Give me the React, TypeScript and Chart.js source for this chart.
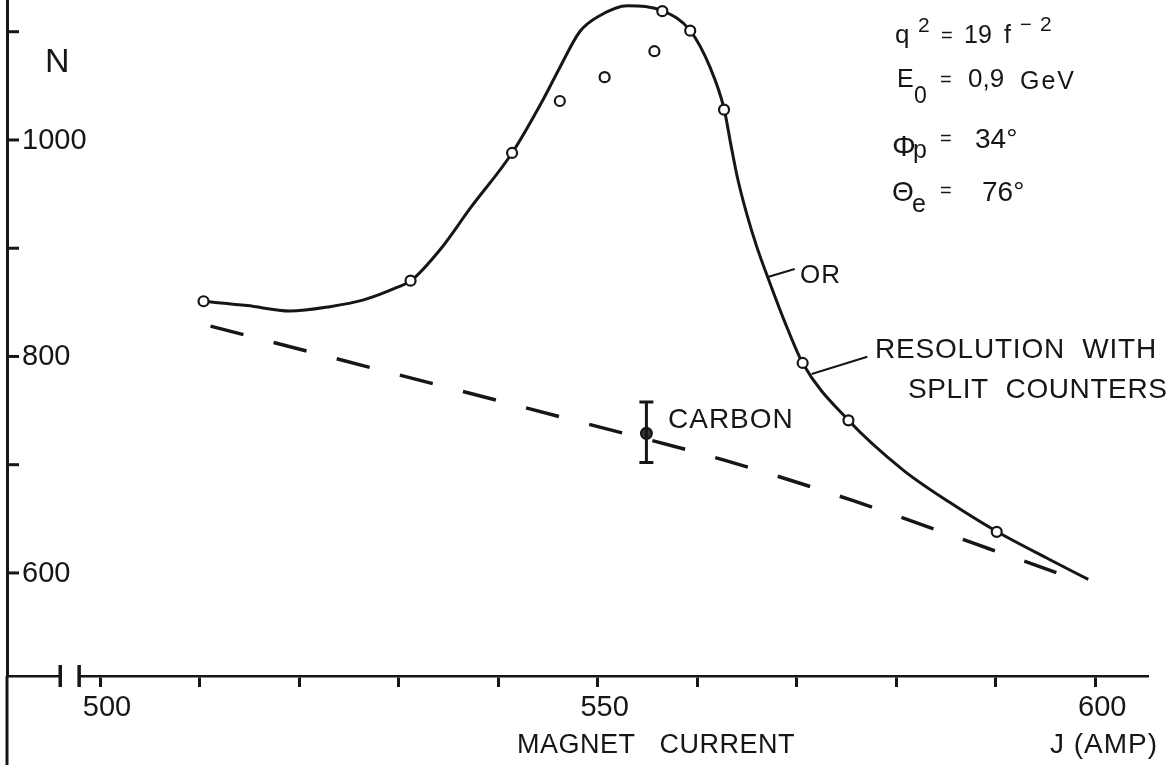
import React, { useEffect, useRef } from 'react';
import { Chart, registerables } from 'chart.js';

Chart.register(...registerables);

// ---- data ----
// measured points (open circles): magnet current J (A) and counts N
const measuredJ = [510.4, 531.2, 541.4, 546.2, 550.7, 555.7, 556.5, 559.3, 562.7, 570.6, 575.2, 590.1];
const measuredN = [851, 870, 988, 1036, 1058, 1082, 1119, 1101, 1028, 794, 741, 638];

// hand-drawn solid curve through the data
const curveJ = [510.35, 514.8, 519.1, 523.1, 526.4, 529.9, 531.25, 534.2, 537.2, 541.4, 544.5, 546.2, 548.2, 550.25, 553.0, 556.6, 559.3, 561.3, 562.7, 563.4, 564.1, 565.0, 566.0, 567.1, 568.8, 570.65, 575.2, 580.7, 585.4, 590.15, 595.5, 599.3];
const curveN = [851, 847, 842, 846, 852, 864, 870, 899, 937, 988, 1037, 1067, 1100, 1115, 1124, 1119, 1101, 1067, 1029, 995, 963, 931, 901, 873, 832, 793, 741, 695, 665, 638, 612, 594];

// dashed carbon background line
const carbonLineJ = [511.1, 548.0, 562.8, 575.6, 587.9, 596.2];
const carbonLineN = [828, 740, 704, 667, 627, 600];

// carbon measurement with error bar
const carbonJ = [554.9];
const carbonN = [729];
const carbonLow = [702];
const carbonHigh = [758];

// tick labels
const xTickLabels = [500, 550, 600];
const yTickLabels = [600, 800, 1000];

// ---- styling / layout constants ----
const FONT = '"Liberation Sans", Arial, sans-serif';
const INK = '#161616';
const X_MIN = 490.65;
const X_MAX = 605.3;
const Y_MIN = 504.8; // value where the J axis crosses
const Y_MAX = 1129.3;
const BREAK_AT = [496.0, 497.9];

const pts = (xs: number[], ys: number[]) => xs.map((x, i) => ({ x, y: ys[i] }));

function drawText(ctx: CanvasRenderingContext2D, s: string, x: number, y: number, size: number, spacing = 0) {
  ctx.font = `normal ${size}px ${FONT}`;
  (ctx as any).letterSpacing = `${spacing}px`;
  ctx.fillText(s, x, y);
}

const decor = {
  id: 'decor',
  afterDraw(chart: any) {
    const { ctx, chartArea } = chart;
    const xs = chart.scales.x;
    const ys = chart.scales.y;
    ctx.save();
    ctx.strokeStyle = INK;
    ctx.fillStyle = INK;
    ctx.lineCap = 'butt';

    // N axis continues below the J axis
    ctx.lineWidth = 3;
    ctx.beginPath();
    ctx.moveTo(ys.right, chartArea.bottom);
    ctx.lineTo(ys.right, chart.height);
    ctx.stroke();

    // inward y tick marks and labels
    ctx.font = `normal 29px ${FONT}`;
    ctx.textBaseline = 'middle';
    ctx.textAlign = 'left';
    for (const t of ys.ticks) {
      if (t.value < 600 || t.value > 1100) continue;
      const py = ys.getPixelForValue(t.value);
      ctx.beginPath();
      ctx.moveTo(ys.right, py);
      ctx.lineTo(ys.right + 12, py);
      ctx.stroke();
      if (yTickLabels.includes(t.value)) {
        ctx.fillText(String(t.value), ys.right + 15, py + 1);
      }
    }

    // axis break on the x axis
    const ay = chartArea.bottom;
    const b1 = xs.getPixelForValue(BREAK_AT[0]);
    const b2 = xs.getPixelForValue(BREAK_AT[1]);
    ctx.fillStyle = '#ffffff';
    ctx.fillRect(b1, ay - 3, b2 - b1, 6);
    ctx.fillStyle = INK;
    ctx.lineWidth = 3.5;
    for (const b of [b1, b2]) {
      ctx.beginPath();
      ctx.moveTo(b, ay - 11);
      ctx.lineTo(b, ay + 11);
      ctx.stroke();
    }

    // carbon error bar
    ctx.lineWidth = 3;
    carbonJ.forEach((j, i) => {
      const px = xs.getPixelForValue(j);
      const lo = ys.getPixelForValue(carbonLow[i]);
      const hi = ys.getPixelForValue(carbonHigh[i]);
      ctx.beginPath();
      ctx.moveTo(px, lo);
      ctx.lineTo(px, hi);
      ctx.moveTo(px - 7, lo);
      ctx.lineTo(px + 7, lo);
      ctx.moveTo(px - 7, hi);
      ctx.lineTo(px + 7, hi);
      ctx.stroke();
    });

    // leader lines for labels
    ctx.lineWidth = 2;
    const leader = (j1: number, n1: number, j2: number, n2: number) => {
      ctx.beginPath();
      ctx.moveTo(xs.getPixelForValue(j1), ys.getPixelForValue(n1));
      ctx.lineTo(xs.getPixelForValue(j2), ys.getPixelForValue(n2));
      ctx.stroke();
    };
    leader(567.1, 873.4, 569.8, 880.8);
    leader(571.5, 783.8, 577.1, 799.8);

    // texts
    ctx.textBaseline = 'alphabetic';
    ctx.textAlign = 'left';
    drawText(ctx, 'N', 45, 72, 34);
    drawText(ctx, 'MAGNET   CURRENT', 517, 753, 27, 0.5);
    drawText(ctx, 'J (AMP)', 1050, 753, 28, 1);
    drawText(ctx, 'CARBON', 668, 428, 28, 1);
    drawText(ctx, 'OR', 800, 283, 26, 1);
    drawText(ctx, 'RESOLUTION  WITH', 875, 358, 28, 0.8);
    drawText(ctx, 'SPLIT  COUNTERS', 908, 398, 28, 0.6);

    // parameter block
    drawText(ctx, 'q', 895, 43, 26);
    drawText(ctx, '2', 918, 32, 21);
    drawText(ctx, '=', 941, 42, 20);
    drawText(ctx, '19', 964, 43, 25);
    drawText(ctx, 'f', 1004, 43, 25);
    drawText(ctx, '\u2212', 1020, 31, 20);
    drawText(ctx, '2', 1040, 31, 21);

    drawText(ctx, 'E', 897, 87, 25);
    drawText(ctx, '0', 914, 103, 23);
    drawText(ctx, '=', 940, 86, 20);
    drawText(ctx, '0,9', 968, 87, 26);
    drawText(ctx, 'GeV', 1020, 89, 25, 2);

    drawText(ctx, '\u03A6', 892, 156, 30);
    drawText(ctx, 'p', 913, 158, 25);
    drawText(ctx, '=', 940, 145, 20);
    drawText(ctx, '34\u00B0', 975, 148, 28);

    drawText(ctx, '\u0398', 892, 201, 28);
    drawText(ctx, 'e', 912, 212, 25);
    drawText(ctx, '=', 940, 197, 20);
    drawText(ctx, '76\u00B0', 982, 201, 28);

    ctx.restore();
  },
};

export default function App() {
  const canvasRef = useRef<HTMLCanvasElement | null>(null);

  useEffect(() => {
    const canvas = canvasRef.current;
    if (!canvas) return;
    const chart = new Chart(canvas, {
      type: 'line',
      data: {
        datasets: [
          {
            label: 'measured',
            data: pts(measuredJ, measuredN),
            showLine: false,
            pointRadius: 5,
            pointBorderWidth: 2.2,
            pointBackgroundColor: '#ffffff',
            pointBorderColor: INK,
            borderColor: INK,
            order: 0,
          },
          {
            label: 'carbon',
            data: pts(carbonJ, carbonN),
            showLine: false,
            pointRadius: 5.5,
            pointBorderWidth: 2,
            pointBackgroundColor: '#333333',
            pointBorderColor: INK,
            borderColor: INK,
            order: 0,
          },
          {
            label: 'curve',
            data: pts(curveJ, curveN),
            borderColor: INK,
            borderWidth: 3,
            pointRadius: 0,
            cubicInterpolationMode: 'monotone',
            fill: false,
            order: 1,
          },
          {
            label: 'carbon background',
            data: pts(carbonLineJ, carbonLineN),
            borderColor: INK,
            borderWidth: 3.5,
            borderDash: [34, 31.2],
            pointRadius: 0,
            cubicInterpolationMode: 'monotone',
            fill: false,
            order: 1,
          },
        ],
      },
      options: {
        animation: false,
        responsive: false,
        devicePixelRatio: 1,
        layout: { autoPadding: false, padding: { left: 7, right: 28, top: 0, bottom: 0 } } as any,
        plugins: {
          legend: { display: false },
          tooltip: { enabled: false },
        },
        scales: {
          x: {
            type: 'linear',
            min: X_MIN,
            max: X_MAX,
            position: 'bottom',
            afterFit: (scale: any) => {
              scale.height = 89;
            },
            grid: {
              drawOnChartArea: false,
              drawTicks: true,
              tickLength: 11,
              tickWidth: 3,
              color: INK,
            },
            border: { display: true, color: INK, width: 2.5 },
            ticks: {
              stepSize: 10,
              includeBounds: false,
              autoSkip: false,
              maxRotation: 0,
              padding: 4,
              labelOffset: 7,
              color: INK,
              font: { family: FONT, size: 29 },
              callback: (v: any) => (xTickLabels.includes(Number(v)) ? String(v) : ''),
            },
          },
          y: {
            type: 'linear',
            min: Y_MIN,
            max: Y_MAX,
            position: 'left',
            afterFit: (scale: any) => {
              scale.width = 0;
            },
            grid: { drawOnChartArea: false, drawTicks: false },
            border: { display: true, color: INK, width: 3 },
            ticks: {
              display: false,
              stepSize: 100,
              includeBounds: false,
            },
          },
        },
      },
      plugins: [decor],
    });
    return () => chart.destroy();
  }, []);

  return (
    <div style={{ position: 'absolute', left: 0, top: 0, width: 1176, height: 765, background: '#fff' }}>
      <canvas ref={canvasRef} width={1176} height={765} style={{ display: 'block' }} />
    </div>
  );
}
